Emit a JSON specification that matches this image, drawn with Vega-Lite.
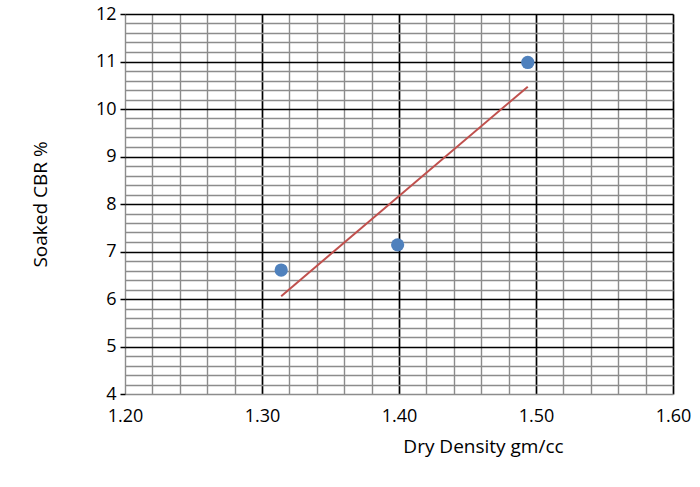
{
  "$schema": "https://vega.github.io/schema/vega-lite/v6.json",
  "width": 548,
  "height": 380,
  "autosize": {"type": "none"},
  "padding": {"left": 125, "top": 14, "right": 27, "bottom": 93},
  "background": "white",
  "config": {
    "view": {"stroke": null},
    "font": "Open Sans",
    "axis": {"labelFont": "Open Sans", "titleFont": "Open Sans", "labelFontSize": 18, "titleFontSize": 19, "labelColor": "#000", "titleColor": "#000", "titleFontWeight": "normal", "domain": false}
  },
  "datasets": {
    "points": [
      {"density": 1.314, "cbr": 6.61},
      {"density": 1.399, "cbr": 7.14},
      {"density": 1.494, "cbr": 10.98}
    ],
    "trend": [
      {"density": 1.314, "cbr": 6.06},
      {"density": 1.494, "cbr": 10.47}
    ]
  },
  "layer": [
    {
      "data": {"name": "trend"},
      "mark": {"type": "line", "color": "#c0504d", "strokeWidth": 2},
      "encoding": {
        "x": {
          "field": "density", "type": "quantitative",
          "scale": {"domain": [1.2, 1.6], "nice": false, "zero": false},
          "axis": {
            "title": "Dry Density gm/cc",
            "titleX": 358,
            "titleY": 52,
            "titleBaseline": "middle",
            "labelPadding": 13,
            "tickCount": 100,
            "ticks": false,
            "values": [1.2,1.22,1.24,1.26,1.28,1.3,1.32,1.34,1.36,1.38,1.4,1.42,1.44,1.46,1.48,1.5,1.52,1.54,1.56,1.58,1.6],
            "labelExpr": "abs(datum.value*10 - round(datum.value*10)) < 1e-6 ? format(datum.value, '.2f') : ''",
            "grid": true,
            "gridColor": {"condition": {"test": "abs(datum.value*10 - round(datum.value*10)) < 1e-6 && datum.value > 1.201", "value": "#000000"}, "value": "#8c8c8c"},
            "gridWidth": {"condition": {"test": "abs(datum.value*10 - round(datum.value*10)) < 1e-6 && datum.value > 1.201", "value": 1.7}, "value": 1.4},
            "gridOpacity": 1,
            "labelFlush": false,
            "labelOverlap": false
          }
        },
        "y": {
          "field": "cbr", "type": "quantitative",
          "scale": {"domain": [4, 12], "nice": false, "zero": false},
          "axis": {
            "title": "Soaked CBR %",
            "titleX": -85,
            "titleY": 190,
            "titleBaseline": "middle",
            "labelPadding": 4,
            "tickCount": 100,
            "ticks": true,
            "tickSize": 5,
            "tickWidth": 1.5,
            "tickColor": {"condition": {"test": "abs(datum.value - round(datum.value)) < 1e-6", "value": "#000000"}, "value": "transparent"},
            "values": [4,4.2,4.4,4.6,4.8,5,5.2,5.4,5.6,5.8,6,6.2,6.4,6.6,6.8,7,7.2,7.4,7.6,7.8,8,8.2,8.4,8.6,8.8,9,9.2,9.4,9.6,9.8,10,10.2,10.4,10.6,10.8,11,11.2,11.4,11.6,11.8,12],
            "labelExpr": "abs(datum.value - round(datum.value)) < 1e-6 ? format(datum.value, 'd') : ''",
            "grid": true,
            "gridColor": {"condition": {"test": "abs(datum.value - round(datum.value)) < 1e-6 && datum.value > 4.01", "value": "#000000"}, "value": "#8c8c8c"},
            "gridWidth": {"condition": {"test": "abs(datum.value - round(datum.value)) < 1e-6 && datum.value > 4.01", "value": 1.7}, "value": 1.4},
            "gridOpacity": 1,
            "labelFlush": false,
            "labelOverlap": false
          }
        }
      }
    },
    {
      "data": {"name": "points"},
      "mark": {"type": "circle", "color": "#4f81bd", "size": 175, "opacity": 1},
      "encoding": {
        "x": {"field": "density", "type": "quantitative"},
        "y": {"field": "cbr", "type": "quantitative"}
      }
    }
  ]
}
